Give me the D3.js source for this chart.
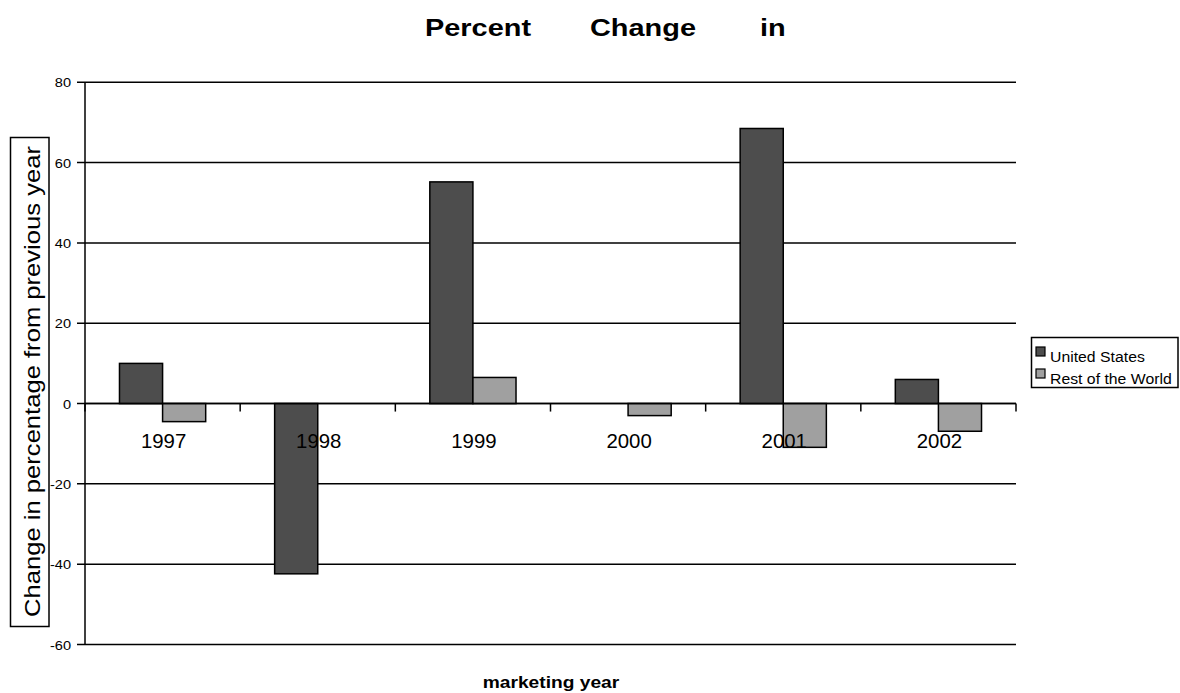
<!DOCTYPE html>
<html><head><meta charset="utf-8">
<script src="https://cdn.jsdelivr.net/npm/d3@7"></script>
<style>
html,body{margin:0;padding:0;background:#fff;}
text{font-family:"Liberation Sans",Arial,sans-serif;fill:#000;}
</style></head>
<body>
<svg id="chart" width="1180" height="693"></svg>
<script>
// ---- data ----
const years = ["1997","1998","1999","2000","2001","2002"];
const seriesNames = ["United States","Rest of the World"];
const usValues = [10.0, -42.4, 55.2, 0, 68.5, 6.0];
const rowValues = [-4.5, 0, 6.5, -3.0, -10.9, -6.9];
const yTicks = [-60,-40,-20,0,20,40,60,80];
const seriesColors = ["#4d4d4d","#a0a0a0"];
const titleWords = ["Percent","Change","in"];
const yTitle = "Change in percentage from previous year";
const xTitle = "marketing year";

(function(){
const svg = d3.select("#chart");
const pLeft = 85, pRight = 1016, pTop = 82.3, pBottom = 644.5;

const x = d3.scaleBand().domain(years).range([pLeft, pRight]).paddingInner(0).paddingOuter(0);
const xs = d3.scaleBand().domain(seriesNames).range([0, x.bandwidth()]).paddingInner(0).paddingOuter(0.8);
const y = d3.scaleLinear().domain([-60, 80]).range([pBottom, pTop]);

function stext(g, px, py, str, opt) {
  return g.append("text")
    .attr("transform", `translate(${px},${py}) scale(${opt.sx||1.2},1)`)
    .attr("text-anchor", opt.anchor || "start")
    .attr("font-size", opt.size)
    .attr("font-weight", opt.bold ? "bold" : "normal")
    .text(str);
}

// grid lines
const grid = svg.append("g");
grid.selectAll("line.g").data(yTicks).join("line")
  .attr("x1", pLeft - 8).attr("x2", pRight)
  .attr("y1", d => y(d)).attr("y2", d => y(d))
  .attr("stroke", "#000").attr("stroke-width", 1.5);
grid.append("line").attr("x1", pLeft).attr("x2", pLeft).attr("y1", y(80)).attr("y2", y(-60))
  .attr("stroke", "#000").attr("stroke-width", 1.5);
yTicks.forEach(t => stext(grid, 71, y(t) + 5, String(t), {size: 13.5, sx: 1.08, anchor: "end"}));

// bars
const data = [];
years.forEach((yr, i) => {
  data.push({yr, s: seriesNames[0], v: usValues[i], c: seriesColors[0]});
  data.push({yr, s: seriesNames[1], v: rowValues[i], c: seriesColors[1]});
});
svg.append("g").selectAll("rect").data(data.filter(d => d.v !== 0)).join("rect")
  .attr("x", d => x(d.yr) + xs(d.s))
  .attr("width", xs.bandwidth())
  .attr("y", d => y(Math.max(0, d.v)))
  .attr("height", d => Math.abs(y(d.v) - y(0)))
  .attr("fill", d => d.c).attr("stroke", "#000").attr("stroke-width", 1.5);

// x axis ticks at band boundaries
const bounds = years.map(d => x(d)).concat([pRight]);
svg.append("g").selectAll("line").data(bounds).join("line")
  .attr("x1", d => d).attr("x2", d => d).attr("y1", y(0)).attr("y2", y(0) + 8)
  .attr("stroke", "#000").attr("stroke-width", 1.5);
svg.append("line").attr("x1", pLeft).attr("x2", pRight).attr("y1", y(0)).attr("y2", y(0))
  .attr("stroke", "#000").attr("stroke-width", 1.5);

// year labels
const xl = svg.append("g");
years.forEach(yr => stext(xl, x(yr) + x.bandwidth()/2 + 1, 448, yr, {size: 20, sx: 1.02, anchor: "middle"}));

// title
const tg = svg.append("g");
const titleX = [425, 590, 760];
titleWords.forEach((w, i) => stext(tg, titleX[i], 36, w, {size: 24.5, sx: 1.18, bold: true}));

// x title
stext(svg, 551, 688, xTitle, {size: 16, sx: 1.2, bold: true, anchor: "middle"});

// y title with box
svg.append("rect").attr("x", 10.5).attr("y", 137.5).attr("width", 38.5).attr("height", 489)
  .attr("fill", "#fff").attr("stroke", "#000").attr("stroke-width", 1.5);
const yt = svg.append("text")
  .attr("text-anchor", "middle").attr("font-size", 22)
  .text(yTitle);
const natural = yt.node().getComputedTextLength();
yt.attr("transform", `translate(40,381.5) rotate(-90) scale(${471 / natural},1)`);

// legend
const lg = svg.append("g");
lg.append("rect").attr("x", 1031.5).attr("y", 337.5).attr("width", 146.5).attr("height", 50)
  .attr("fill", "#fff").attr("stroke", "#000").attr("stroke-width", 1.5);
seriesNames.forEach((s, i) => {
  const ly = 347 + i * 22;
  lg.append("rect").attr("x", 1036).attr("y", ly).attr("width", 9).attr("height", 9)
    .attr("fill", seriesColors[i]).attr("stroke", "#000").attr("stroke-width", 1.2);
  stext(lg, 1050, ly + 15, s, {size: 14.5, sx: 1.09});
});
})();
</script>
</body></html>
